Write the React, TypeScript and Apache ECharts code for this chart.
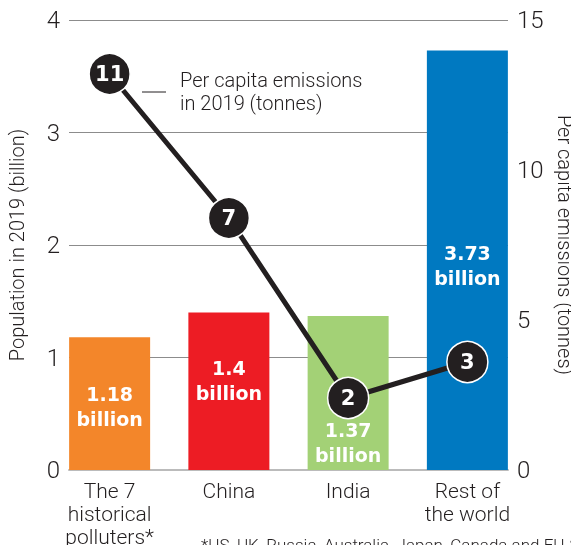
import React, { useEffect, useRef } from "react";
import * as echarts from "echarts";

const categories = ["The 7\nhistorical\npolluters*", "China", "India", "Rest of\nthe world"];
const population = [1.18, 1.4, 1.37, 3.73];
const emissions = [11, 7, 2, 3];
const barColors = ["#f3862a", "#ed1c24", "#a3d176", "#0079c1"];
const leftTicks = { min: 0, max: 4, interval: 1 };
const rightTicks = { min: 0, max: 15, interval: 5 };

const FONT = "'Roboto', sans-serif";
const LIGHT = 300;
const BOLD = "'DejaVu Sans', 'Roboto', sans-serif";
const INK = "#231f20";

export default function App() {
  const ref = useRef<HTMLDivElement>(null);
  useEffect(() => {
    const chart = echarts.init(ref.current!, null, { renderer: "svg" });
    const labelPos = [
      { position: "inside", offset: [0, 3] },
      { position: "inside", offset: [0, -11] },
      { position: "insideBottom", distance: 3 },
      { position: "inside", offset: [0, 5] },
    ];
    chart.setOption({
      animation: false,
      grid: [
        { left: 69, right: 63, top: 20, bottom: 75, outerBoundsMode: "none", containLabel: false },
        { left: 50, right: 44, top: 20, bottom: 75, outerBoundsMode: "none", containLabel: false },
      ],
      xAxis: [
        {
          type: "category",
          gridIndex: 0,
          data: categories,
          axisLine: { lineStyle: { color: "#bbbbbb", width: 2 } },
          axisTick: { show: false },
          axisLabel: { show: false },
        },
        {
          type: "category",
          gridIndex: 1,
          data: categories,
          axisLine: { show: false },
          axisTick: { show: false },
          axisLabel: {
            color: INK,
            fontFamily: FONT,
            fontWeight: LIGHT,
            fontSize: 21,
            lineHeight: 23,
            margin: 9,
            verticalAlign: "top",
          },
        },
      ],
      yAxis: [
        {
          type: "value",
          gridIndex: 0,
          ...leftTicks,
          name: "Population in 2019 (billion)",
          nameLocation: "middle",
          nameGap: 42,
          nameTextStyle: { color: INK, fontFamily: FONT, fontWeight: LIGHT, fontSize: 20 },
          axisLine: { show: false },
          axisTick: { show: false },
          axisLabel: { color: INK, fontFamily: FONT, fontWeight: LIGHT, fontSize: 24, margin: 9 },
          splitLine: { lineStyle: { color: "#8c8c8c", width: 1 } },
        },
        {
          type: "value",
          gridIndex: 0,
          position: "right",
          ...rightTicks,
          name: "Per capita emissions (tonnes)",
          nameLocation: "middle",
          nameGap: 43,
          nameRotate: -90,
          nameTextStyle: { color: INK, fontFamily: FONT, fontWeight: LIGHT, fontSize: 20 },
          axisLine: { show: false },
          axisTick: { show: false },
          axisLabel: { color: INK, fontFamily: FONT, fontWeight: LIGHT, fontSize: 24, margin: 9 },
          splitLine: { show: false },
        },
        {
          type: "value",
          gridIndex: 1,
          ...leftTicks,
          show: false,
          splitLine: { show: false },
        },
        {
          type: "value",
          gridIndex: 1,
          min: 0,
          max: 12.5,
          show: false,
          splitLine: { show: false },
        },
      ],
      series: [
        {
          type: "bar",
          xAxisIndex: 1,
          yAxisIndex: 2,
          barWidth: 81,
          data: population.map((v, i) => ({
            value: v,
            itemStyle: { color: barColors[i] },
            label: {
              show: true,
              ...labelPos[i],
              formatter: "{c}\nbillion",
              color: "#ffffff",
              fontFamily: BOLD,
              fontWeight: "bold",
              fontSize: 19,
              lineHeight: 25,
            },
          })),
        },
        {
          type: "line",
          xAxisIndex: 1,
          yAxisIndex: 3,
          data: emissions,
          z: 5,
          lineStyle: { color: INK, width: 5 },
          symbol: "circle",
          symbolSize: 41,
          itemStyle: { color: INK, borderColor: "#ffffff", borderWidth: 1.5 },
          label: {
            show: true,
            position: "inside",
            color: "#ffffff",
            fontFamily: BOLD,
            fontWeight: "bold",
            fontSize: 21,
          },
        },
      ],
      graphic: [
        {
          type: "line",
          shape: { x1: 142, y1: 92, x2: 166, y2: 92 },
          style: { stroke: INK, lineWidth: 1 },
        },
        {
          type: "text",
          x: 180,
          y: 68,
          style: {
            text: "Per capita emissions\nin 2019 (tonnes)",
            fill: INK,
            font: `${LIGHT} 20px ${FONT}`,
            lineHeight: 23,
          },
        },
        {
          type: "text",
          x: 201,
          y: 536,
          style: {
            text: "*US, UK, Russia, Australia, Japan, Canada and EU-27",
            fill: INK,
            font: `${LIGHT} 17px ${FONT}`,
          },
        },
      ],
    });
    return () => chart.dispose();
  }, []);
  return (
    <div
      ref={ref}
      style={{ position: "fixed", left: 0, top: 0, width: 571, height: 545 }}
    />
  );
}
